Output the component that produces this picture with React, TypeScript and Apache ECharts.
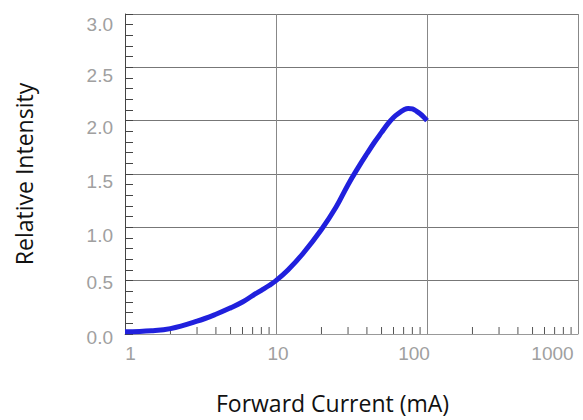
import React, { useEffect, useRef } from "react";
import * as echarts from "echarts";

// Forward current (mA) and relative intensity
const currents = [1, 1.5, 2, 3, 4, 5, 6, 7, 8, 9, 10, 12, 15, 20, 25, 30, 35, 40, 45, 50, 55, 60, 65, 70, 75, 80, 85, 90, 95, 100];
const intensity = [0.02, 0.03, 0.05, 0.12, 0.185, 0.245, 0.3, 0.36, 0.41, 0.455, 0.5, 0.6, 0.75, 0.98, 1.19, 1.4, 1.56, 1.69, 1.8, 1.89, 1.97, 2.03, 2.07, 2.1, 2.115, 2.11, 2.09, 2.065, 2.035, 2.0];

// Minor log ticks on the current axis
const minorTicks = [2, 3, 4, 5, 6, 7, 8, 9, 20, 30, 40, 50, 60, 70, 80, 90, 200, 300, 400, 500, 600, 700, 800, 900];

const xTickLabels = ["1", "10", "100", "1000"];
const yTickLabels = ["0.0", "0.5", "1.0", "1.5", "2.0", "2.5", "3.0"];

export default function App() {
  const ref = useRef<HTMLDivElement>(null);
  useEffect(() => {
    if (!ref.current) return;
    const chart = echarts.init(ref.current, undefined, { renderer: "svg" });
    const xRich: Record<string, any> = {
      a: { padding: [0, 0, 0, 11] },
      b: { padding: [0, 0, 0, 4] },
      c: { padding: [0, 26, 0, 0] },
      d: { padding: [0, 51, 0, 0] },
    };
    const xKeys: Record<string, string> = { "1": "a", "10": "b", "100": "c", "1000": "d" };
    const yOffsets: Record<string, number> = { "0.0": 3, "0.5": 2, "1.0": 8, "1.5": 7, "2.0": 7, "2.5": 8, "3.0": 10 };
    const yRich: Record<string, any> = {};
    yTickLabels.forEach((l, i) => {
      yRich["y" + i] = { padding: [yOffsets[l] * 2, 0, 0, 0] };
    });
    const labelStyle = { color: "#a0a0a0", fontSize: 19, fontFamily: "Liberation Sans" };
    chart.setOption({
      animation: false,
      backgroundColor: "#fff",
      grid: { left: 125, right: 5, top: 14, bottom: 86, containLabel: false },
      xAxis: {
        type: "log",
        logBase: 10,
        min: 1,
        max: 1000,
        name: "Forward Current (mA)",
        nameLocation: "middle",
        nameGap: 57,
        nameTextStyle: { fontFamily: "Open Sans", fontSize: 23, color: "#111", padding: [0, 38, 0, 0] },
        axisLine: { show: true, lineStyle: { color: "#999", width: 1 } },
        axisTick: { show: false },
        axisLabel: {
          ...labelStyle,
          margin: 10,
          formatter: (v: number) => {
            const s = xTickLabels.find((t) => Number(t) === Math.round(v)) || String(v);
            return "{" + (xKeys[s] || "b") + "|" + s + "}";
          },
          rich: Object.fromEntries(Object.entries(xRich).map(([k, v]) => [k, { ...labelStyle, ...v }])),
        },
        splitLine: { show: true, lineStyle: { color: "#888", width: 1 } },
      },
      yAxis: {
        type: "value",
        min: 0,
        max: 3,
        interval: 0.5,
        name: "Relative Intensity",
        nameLocation: "middle",
        nameGap: 90,
        nameTextStyle: { fontFamily: "Open Sans", fontSize: 23, color: "#111" },
        axisLine: { show: true, lineStyle: { color: "#444", width: 1 } },
        axisTick: { show: true, inside: true, length: 8, lineStyle: { color: "#444" } },
        minorTick: { show: true, splitNumber: 5, length: 8, lineStyle: { color: "#444" } },
        axisLabel: {
          ...labelStyle,
          margin: 12,
          formatter: (v: number) => {
            const s = v.toFixed(1);
            const i = yTickLabels.indexOf(s);
            return "{y" + i + "|" + s + "}";
          },
          rich: Object.fromEntries(Object.entries(yRich).map(([k, v]) => [k, { ...labelStyle, ...v }])),
        },
        splitLine: { show: true, lineStyle: { color: "#777", width: 1 } },
      },
      series: [
        {
          type: "custom",
          silent: true,
          z: 3,
          data: minorTicks.map((v) => [v, 0]),
          renderItem: (_params: any, api: any) => {
            const p = api.coord([api.value(0), 0]);
            return {
              type: "line",
              shape: { x1: p[0], y1: p[1], x2: p[0], y2: p[1] - 7 },
              style: { stroke: "#555", lineWidth: 1 },
            };
          },
        },
        {
          type: "line",
          data: currents.map((c, i) => [c, intensity[i]]),
          smooth: 0.4,
          showSymbol: false,
          z: 5,
          lineStyle: { color: "#2020dd", width: 5 },
        },
      ],
    });
    return () => chart.dispose();
  }, []);
  return <div ref={ref} style={{ position: "fixed", left: 0, top: 0, width: 583, height: 420 }} />;
}
